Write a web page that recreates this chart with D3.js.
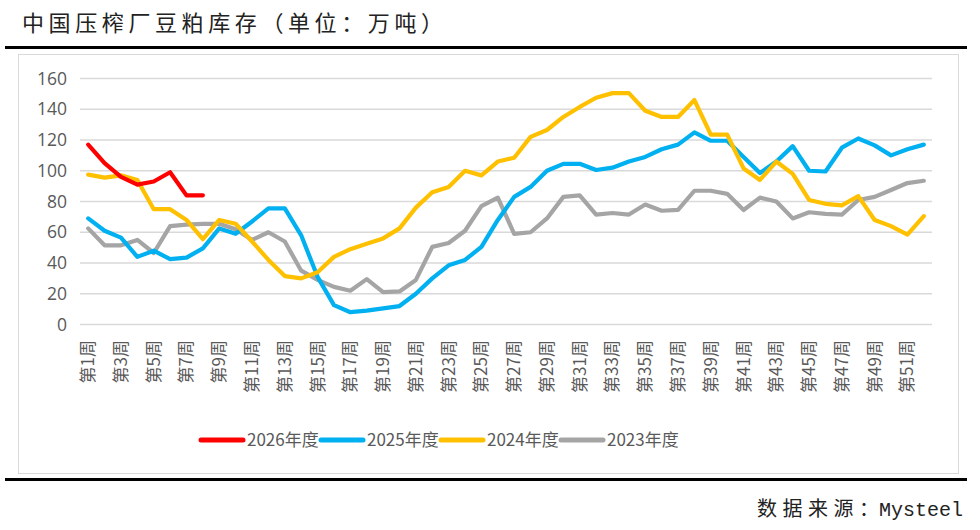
<!DOCTYPE html>
<html>
<head>
<meta charset="utf-8">
<script src="https://cdn.jsdelivr.net/npm/d3@7"></script>
<style>
  body { margin: 0; background: #fff; }
  svg { display: block; font-family: "Noto Sans CJK SC", "Noto Sans", sans-serif; }
</style>
</head>
<body>
<svg id="chart" width="980" height="530"></svg>
<script>
const width = 980;
const height = 530;

const weeks = d3.range(1, 53).map(i => "第" + i + "周");
const yTicks = [0, 20, 40, 60, 80, 100, 120, 140, 160];

const y2026 = [117, 105, 96, 91, 93, 99, 84, 84];
const y2025 = [69, 61, 56.5, 44, 48, 42.5, 43.5, 49.5, 62.5, 59,
  67, 75.5, 75.5, 58, 31, 12.6, 8, 9, 10.5, 12,
  20, 30, 38.5, 42, 50.5, 68, 83, 89.5, 100, 104.5,
  104.5, 100.5, 102, 106, 109, 114, 117, 125, 119.5, 119.5,
  109, 98.5, 106, 116, 100, 99.5, 115, 121, 116.5, 110,
  114, 117];
const y2024 = [97.5, 95.5, 97, 94, 75, 75, 68, 55.5, 68, 65.5,
  54, 42, 31.5, 30, 34, 44, 49, 52.5, 56, 62.5,
  76, 86, 89.5, 100, 97, 106, 108.5, 122, 126.5, 135,
  141.5, 147.5, 150.5, 150.5, 139, 135, 135, 146, 123.5, 123.5,
  101.5, 94, 106, 98, 81, 78.5, 77.5, 83.5, 68, 64,
  58.5, 70.5];
const y2023 = [62.5, 51.5, 51.5, 55, 46.5, 64, 65, 65.5, 65.5, 62,
  55, 60, 54, 35, 29, 24.5, 22, 29.5, 21, 21.5,
  29, 50.5, 53, 61, 77, 82.5, 59, 60, 69, 83,
  84, 71.5, 72.5, 71.5, 78, 74, 74.5, 87, 87, 85,
  74.5, 82.5, 80, 69, 73, 72, 71.5, 81, 83, 87.5,
  92, 93.5];

const seriesNames = ["2026年度", "2025年度", "2024年度", "2023年度"];
const seriesValues = [y2026, y2025, y2024, y2023];
const seriesColors = ["#ff0000", "#00b0f0", "#ffc000", "#a5a5a5"];

const cjk = "'Noto Sans CJK SC', 'Noto Sans', sans-serif";

const svg = d3.select("#chart");

// title + rules
svg.append("text")
  .attr("x", 22).attr("y", 31)
  .style("font-size", "22px")
  .style("font-family", cjk)
  .attr("fill", "#222")
  .attr("textLength", 421).attr("lengthAdjust", "spacing")
  .text("中国压榨厂豆粕库存（单位：万吨）");

svg.append("rect").attr("x", 5).attr("y", 46).attr("width", 962).attr("height", 3).attr("fill", "#000");
svg.append("rect").attr("x", 18.5).attr("y", 54.5).attr("width", 940).attr("height", 419)
  .attr("fill", "none").attr("stroke", "#d9d9d9");
svg.append("rect").attr("x", 5).attr("y", 478).attr("width", 962).attr("height", 3).attr("fill", "#000");

// source line: CJK part spaced, latin part monospace
svg.append("text")
  .attr("x", 963).attr("y", 516)
  .attr("text-anchor", "end")
  .style("font-size", "20px")
  .style("font-family", "'Liberation Mono', 'DejaVu Sans Mono', monospace")
  .attr("fill", "#222")
  .text("Mysteel");
svg.append("text")
  .attr("x", 757).attr("y", 516)
  .style("font-size", "20px")
  .style("font-family", cjk)
  .attr("fill", "#222")
  .attr("textLength", 122).attr("lengthAdjust", "spacing")
  .text("数据来源：");

// scales
const x = d3.scaleBand().domain(weeks).range([80, 932]).padding(0);
const cx = d => x(d) + x.bandwidth() / 2;
const y = d3.scaleLinear().domain([0, 160]).range([324.5, 78.5]);

// grid
svg.append("g")
  .selectAll("line")
  .data(yTicks)
  .join("line")
  .attr("x1", 80).attr("x2", 932)
  .attr("y1", d => y(d)).attr("y2", d => y(d))
  .attr("stroke", "#d9d9d9").attr("stroke-width", 1.3);

// y axis labels
const yAxis = svg.append("g")
  .attr("transform", "translate(67,0)")
  .call(d3.axisLeft(y).tickValues(yTicks).tickSize(0).tickPadding(0));
yAxis.select(".domain").remove();
yAxis.selectAll("text")
  .style("font-size", "17.5px")
  .style("font-family", "'Open Sans', 'Noto Sans', sans-serif")
  .attr("fill", "#595959");

// x axis labels, every other week, rotated
const xAxis = svg.append("g")
  .attr("transform", "translate(0,334)")
  .call(d3.axisBottom(x).tickValues(weeks.filter((d, i) => i % 2 === 0)).tickSize(0).tickPadding(0));
xAxis.select(".domain").remove();
xAxis.selectAll("text")
  .style("font-size", "17px")
  .style("font-family", cjk)
  .attr("fill", "#595959")
  .attr("text-anchor", "end")
  .attr("dy", "0.35em")
  .attr("transform", "translate(0,6) rotate(-90)")
  .attr("x", 0).attr("y", 0);

// lines (draw oldest first)
const line = d3.line()
  .x((d, i) => cx(weeks[i]))
  .y(d => y(d))
  .curve(d3.curveLinear);

const order = [3, 1, 2, 0];
svg.append("g")
  .selectAll("path")
  .data(order)
  .join("path")
  .attr("d", k => line(seriesValues[k]))
  .attr("fill", "none")
  .attr("stroke", k => seriesColors[k])
  .attr("stroke-width", 4.2)
  .attr("stroke-linejoin", "round")
  .attr("stroke-linecap", "round");

// legend
const legendX = [201, 321, 441, 561];
const legend = svg.append("g");
seriesNames.forEach((name, i) => {
  legend.append("line")
    .attr("x1", legendX[i]).attr("x2", legendX[i] + 42)
    .attr("y1", 440).attr("y2", 440)
    .attr("stroke", seriesColors[i]).attr("stroke-width", 5)
    .attr("stroke-linecap", "round");
  legend.append("text")
    .attr("x", legendX[i] + 46).attr("y", 446)
    .style("font-size", "17px")
    .style("font-family", cjk)
    .attr("fill", "#595959")
    .text(name);
});
</script>
</body>
</html>
